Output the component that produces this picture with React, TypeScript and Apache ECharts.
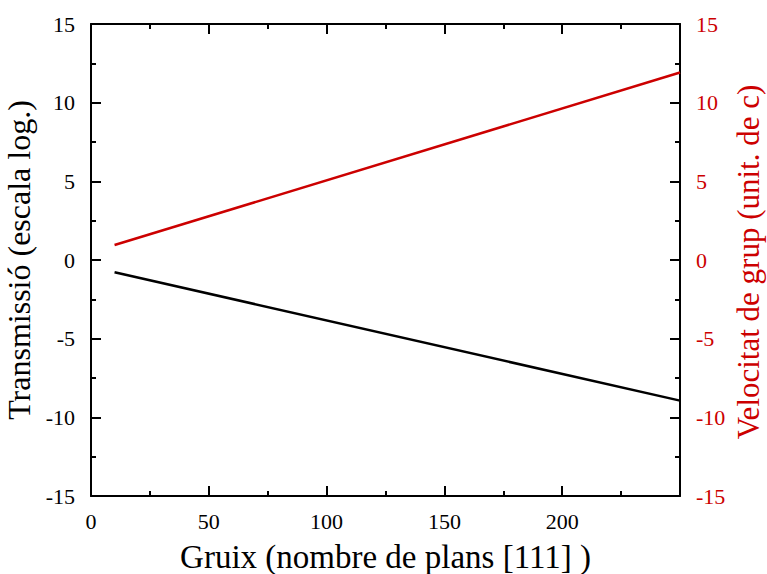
import React, { useEffect, useRef } from "react";
import * as echarts from "echarts";

const thicknessX = [10, 250];
const transmission = [-0.78, -8.94];
const groupVelocity = [0.95, 11.92];

const xTitle = "Gruix (nombre de plans [111] )";
const yLeftTitle = "Transmissió (escala log.)";
const yRightTitle = "Velocitat de grup (unit. de c)";

const RED = "#cc0000";
const FONT = "'Liberation Serif', 'Times New Roman', serif";

export default function App() {
  const ref = useRef<HTMLDivElement>(null);
  useEffect(() => {
    if (!ref.current) return;
    const chart = echarts.init(ref.current, undefined, { renderer: "svg" });
    const axisLine = { show: true, onZero: false, lineStyle: { color: "#000", width: 2 } };
    const tick = { show: true, inside: true, length: 10, lineStyle: { color: "#000", width: 2 } };
    const minor = { show: true, splitNumber: 2, length: 5, lineStyle: { color: "#000", width: 2 } };
    const nameStyle = (color: string, size: number) => ({ fontSize: size, lineHeight: size, fontFamily: FONT, color });
    chart.setOption({
      animation: false,
      backgroundColor: "#fff",
      textStyle: { fontFamily: FONT },
      grid: { left: 91, right: 87, top: 24, bottom: 78, containLabel: false, outerBoundsMode: "none" },
      graphic: [
        {
          type: "text",
          x: 748,
          y: 262,
          rotation: Math.PI / 2,
          style: {
            text: yRightTitle,
            fill: RED,
            fontSize: 31,
            fontFamily: FONT,
            align: "center",
            verticalAlign: "middle",
          },
        },
      ],
      xAxis: [
        {
          type: "value",
          min: 0,
          max: 250,
          interval: 50,
          position: "bottom",
          axisLine,
          axisTick: tick,
          minorTick: minor,
          splitLine: { show: false },
          axisLabel: { showMaxLabel: false, margin: 14, fontSize: 22, fontFamily: FONT, color: "#000" },
          name: xTitle,
          nameLocation: "middle",
          nameGap: 44,
          nameTextStyle: nameStyle("#000", 33),
        },
        {
          type: "value",
          min: 0,
          max: 250,
          interval: 50,
          position: "top",
          axisLine,
          axisTick: tick,
          minorTick: minor,
          splitLine: { show: false },
          axisLabel: { show: false },
        },
      ],
      yAxis: [
        {
          type: "value",
          min: -15,
          max: 15,
          interval: 5,
          position: "left",
          axisLine,
          axisTick: tick,
          minorTick: minor,
          splitLine: { show: false },
          axisLabel: { margin: 16, fontSize: 22, fontFamily: FONT, color: "#000" },
          name: yLeftTitle,
          nameLocation: "middle",
          nameGap: 53,
          nameRotate: 90,
          nameTextStyle: nameStyle("#000", 32),
        },
        {
          type: "value",
          min: -15,
          max: 15,
          interval: 5,
          position: "right",
          axisLine,
          axisTick: tick,
          minorTick: minor,
          splitLine: { show: false },
          axisLabel: { margin: 16, fontSize: 22, fontFamily: FONT, color: RED },
        },
      ],
      series: [
        {
          type: "line",
          xAxisIndex: 0,
          yAxisIndex: 0,
          data: thicknessX.map((x, i) => [x, transmission[i]]),
          showSymbol: false,
          lineStyle: { color: "#000", width: 2.5 },
        },
        {
          type: "line",
          xAxisIndex: 0,
          yAxisIndex: 1,
          data: thicknessX.map((x, i) => [x, groupVelocity[i]]),
          showSymbol: false,
          lineStyle: { color: RED, width: 2.5 },
        },
      ],
    });
    return () => chart.dispose();
  }, []);
  return <div ref={ref} style={{ width: 767, height: 574, position: "absolute", left: 0, top: 0 }} />;
}
